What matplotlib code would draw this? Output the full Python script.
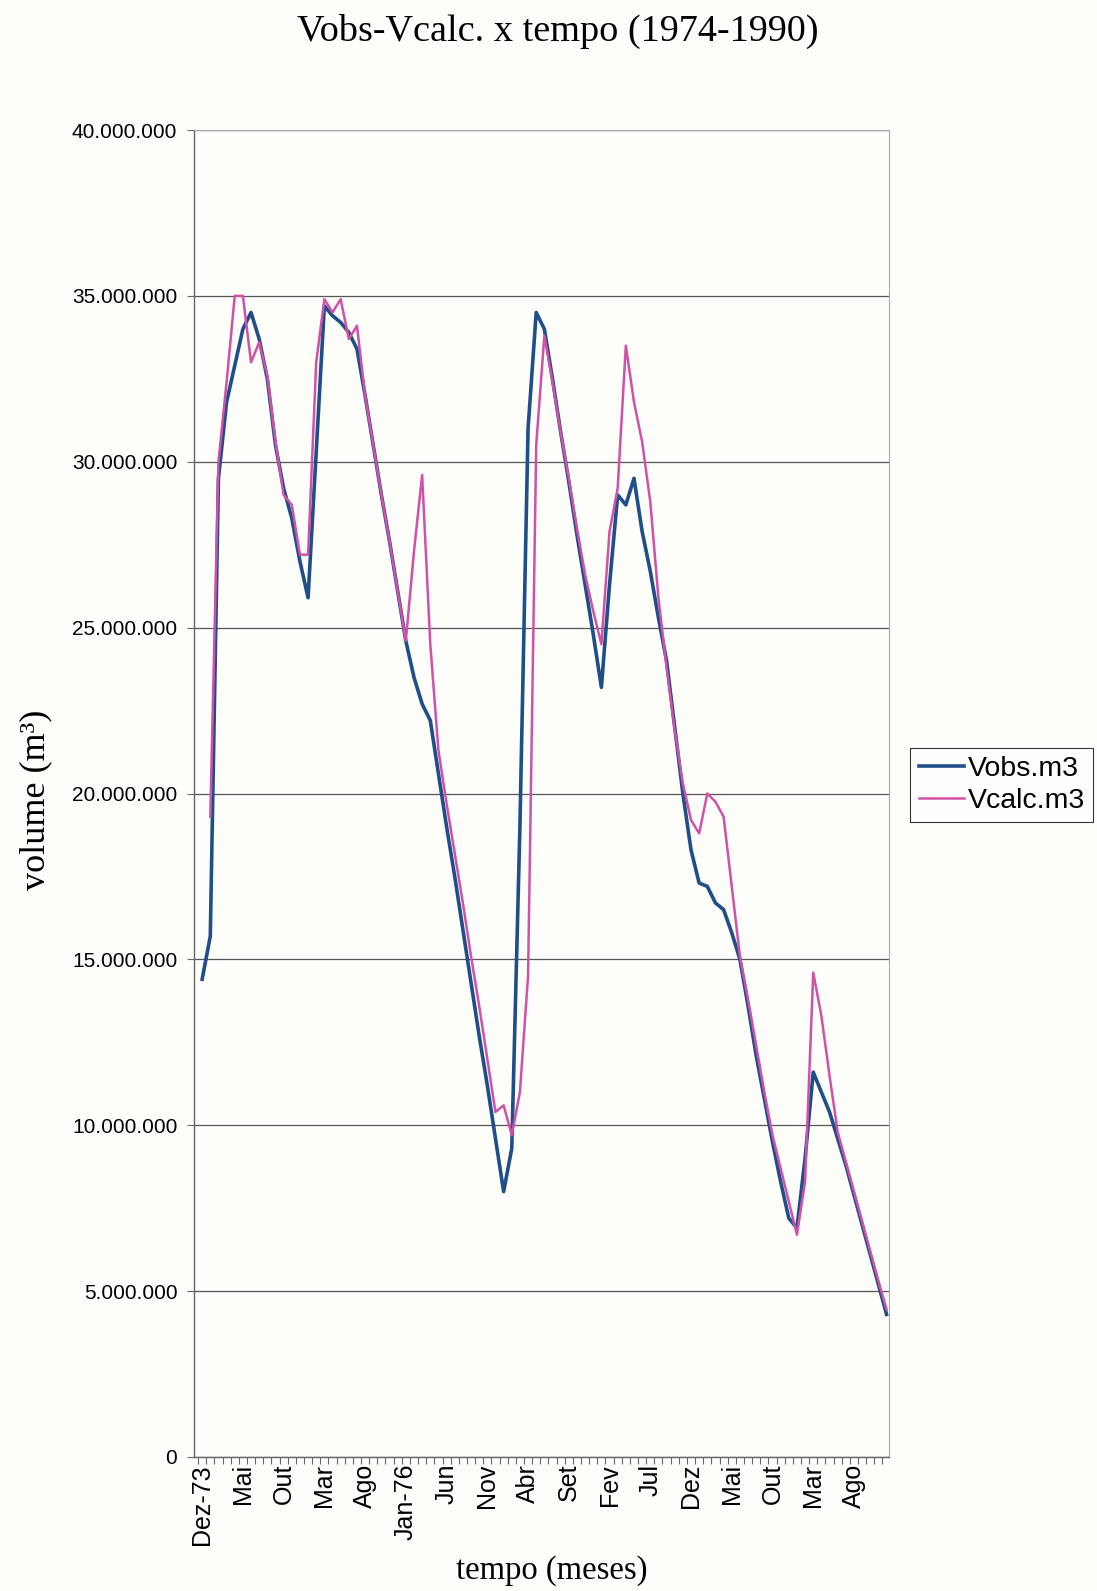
import numpy as np
import matplotlib
matplotlib.use("Agg")
import matplotlib.pyplot as plt
from matplotlib.ticker import FuncFormatter, FixedLocator

# volumes mensais (milhões de m3), de Dez-73 a Dez-80
vobs = [14.4, 15.7, 29.5, 31.8, 32.9, 34.0, 34.5, 33.7, 32.5, 30.5,
        29.2, 28.3, 27.0, 25.9, 30.3, 34.7, 34.4, 34.2, 33.9, 33.4,
        32.0, 30.5, 29.0, 27.6, 26.1, 24.6, 23.5, 22.7, 22.2, 20.6,
        19.0, 17.5, 15.9, 14.3, 12.7, 11.2, 9.6, 8.0, 9.3, 19.0,
        31.0, 34.5, 34.0, 32.5, 30.9, 29.4, 27.8, 26.3, 24.8, 23.2,
        26.3, 29.0, 28.7, 29.5, 27.9, 26.7, 25.3, 24.0, 22.0, 20.0,
        18.3, 17.3, 17.2, 16.7, 16.5, 15.8, 15.0, 13.6, 12.1, 10.8,
        9.5, 8.3, 7.2, 6.9, 9.0, 11.6, 11.0, 10.4, 9.6, 8.8,
        7.9, 7.0, 6.1, 5.2, 4.3]

vcalc = [None, 19.3, 30.0, 32.4, 35.0, 35.0, 33.0, 33.6, 32.6, 30.6,
         29.0, 28.7, 27.2, 27.2, 33.0, 34.9, 34.5, 34.9, 33.7, 34.1,
         32.0, 30.5, 29.0, 27.6, 26.1, 24.6, 27.3, 29.6, 24.5, 21.3,
         19.7, 18.2, 16.7, 15.1, 13.6, 12.0, 10.4, 10.6, 9.7, 11.0,
         14.5, 30.5, 33.8, 32.4, 30.9, 29.5, 28.0, 26.6, 25.5, 24.5,
         27.9, 29.2, 33.5, 31.8, 30.6, 28.8, 25.9, 23.8, 21.9, 20.3,
         19.2, 18.8, 20.0, 19.75, 19.3, 17.2, 15.1, 13.8, 12.4, 11.0,
         9.7, 8.7, 7.7, 6.7, 8.3, 14.6, 13.3, 11.5, 9.8, 8.9,
         8.0, 7.1, 6.2, 5.3, 4.45]

tick_labels = ["Dez-73", "Mai", "Out", "Mar", "Ago", "Jan-76", "Jun", "Nov",
               "Abr", "Set", "Fev", "Jul", "Dez", "Mai", "Out", "Mar", "Ago"]

obs = np.array(vobs) * 1e6
calc = np.array([np.nan if v is None else v for v in vcalc]) * 1e6
meses = np.arange(len(obs))

W, H = 1097, 1591
fig = plt.figure(figsize=(W / 100, H / 100), dpi=100, facecolor="#fdfdf9")
ax = fig.add_axes([194 / W, 1 - 1457 / H, (889 - 194) / W, (1457 - 130) / H])
ax.set_facecolor("#fdfdf9")

ax.plot(meses, obs, color="#1f4e88", lw=2.6, label="Vobs.m3")
ax.plot(meses, calc, color="#d052a8", lw=1.8, label="Vcalc.m3")

ax.set_xlim(-1.0, len(obs) - 0.7)
ax.set_ylim(0, 40e6)
ax.set_yticks(np.arange(0, 40e6 + 1, 5e6))
ax.yaxis.set_major_formatter(FuncFormatter(lambda v, p: f"{int(v):,}".replace(",", ".")))
ax.grid(axis="y", color="#555555", lw=0.9)
ax.set_axisbelow(True)

ax.set_xticks(meses[::5])
ax.set_xticklabels(tick_labels, rotation=90, fontfamily="Liberation Sans", fontsize=18)
ax.xaxis.set_minor_locator(FixedLocator(np.arange(-0.5, len(obs) - 0.7, 1)))
ax.tick_params(axis="x", which="major", length=0, pad=5)
ax.tick_params(axis="x", which="minor", length=5, width=0.8, color="#666666", direction="out")
ax.tick_params(axis="y", length=5, width=0.8, color="#666666", pad=7)
for lbl in ax.get_yticklabels():
    lbl.set_fontfamily("Liberation Sans")
    lbl.set_fontsize(15)

for side in ["left", "bottom"]:
    ax.spines[side].set_color("#666666")
    ax.spines[side].set_linewidth(1.0)
for side in ["right", "top"]:
    ax.spines[side].set_color("#aaaaaa")
    ax.spines[side].set_linewidth(0.8)

fig.text(0.508, 1 - 31 / H, "Vobs-Vcalc. x tempo (1974-1990)", ha="center", va="center",
         fontfamily="Liberation Serif", fontsize=27.5)
fig.text(0.503, 1 - 1571 / H, "tempo (meses)", ha="center", va="center",
         fontfamily="Liberation Serif", fontsize=23.5)
fig.text(36 / W, 1 - 800 / H, "volume (m³)", ha="center", va="center", rotation=90,
         fontfamily="Liberation Serif", fontsize=26)

leg = fig.legend(loc="center left", bbox_to_anchor=(910 / W, 1 - 785 / H),
                 prop={"family": "Liberation Sans", "size": 20.5},
                 frameon=True, fancybox=False, edgecolor="black",
                 handlelength=1.6, handletextpad=0.12, borderpad=0.3,
                 labelspacing=0.2, borderaxespad=0)
leg.get_frame().set_linewidth(0.8)
leg.get_frame().set_facecolor("white")

fig.savefig("out.png", dpi=100, facecolor=fig.get_facecolor())
